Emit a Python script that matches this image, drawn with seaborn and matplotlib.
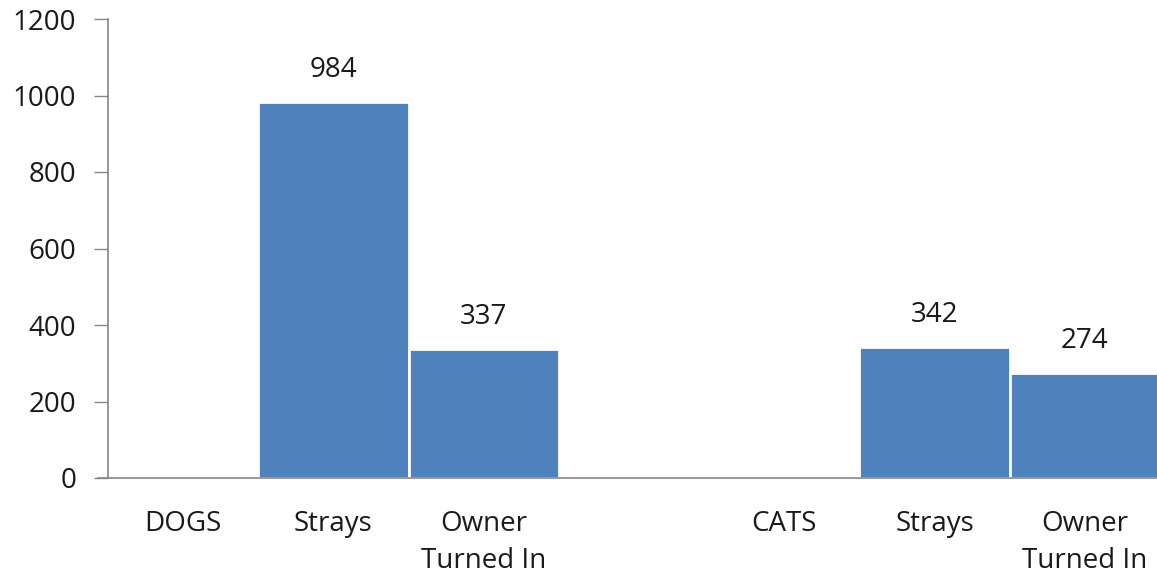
import matplotlib
matplotlib.use("Agg")
import matplotlib.pyplot as plt
import seaborn as sns
import pandas as pd
import numpy as np

categories = ["DOGS", "Strays", "Owner\nTurned In", "", "CATS", "Strays", "Owner\nTurned In"]
values = [np.nan, 984, 337, np.nan, np.nan, 342, 274]

sns.set_theme(style="white")
plt.rcParams['font.family'] = ['Open Sans', 'DejaVu Sans']

df = pd.DataFrame({"pos": list(range(len(categories))), "value": values})

fig = plt.figure(figsize=(11.57, 5.79), dpi=100)
ax = fig.add_axes([108/1157, (579-478)/579, 1.0 - 108/1157, (478-19)/579])

sns.barplot(data=df, x="pos", y="value", native_scale=True, width=1.0,
            color="#4F81BD", saturation=1, edgecolor="white", linewidth=2,
            errorbar=None, ax=ax)

FS = 20
for cont in ax.containers:
    labels = [("" if np.isnan(v) else f"{int(v)}") for v in cont.datavalues]
    ax.bar_label(cont, labels=labels, padding=13, fontsize=FS, color="#1a1a1a")

ax.set_xlim(-0.5, 6.48)
ax.set_ylim(0, 1200)
ax.set_yticks(range(0, 1201, 200))
ax.set_xticks(range(len(categories)))
ax.set_xticklabels(categories, fontsize=FS, color="#1a1a1a", linespacing=1.45)
ax.tick_params(axis="y", labelsize=FS, labelcolor="#1a1a1a", length=10, width=1,
               color="#868686", left=True, pad=13)
ax.tick_params(axis="x", length=0, pad=23)
ax.set_xlabel("")
ax.set_ylabel("")
for s in ["top", "right"]:
    ax.spines[s].set_visible(False)
for s in ["left", "bottom"]:
    ax.spines[s].set_color("#868686")
    ax.spines[s].set_linewidth(1.2)
ax.spines["bottom"].set_bounds(-0.5 - 10/150, 6.48)
ax.spines["bottom"].set_clip_on(False)

fig.savefig("out.png", dpi=100)
